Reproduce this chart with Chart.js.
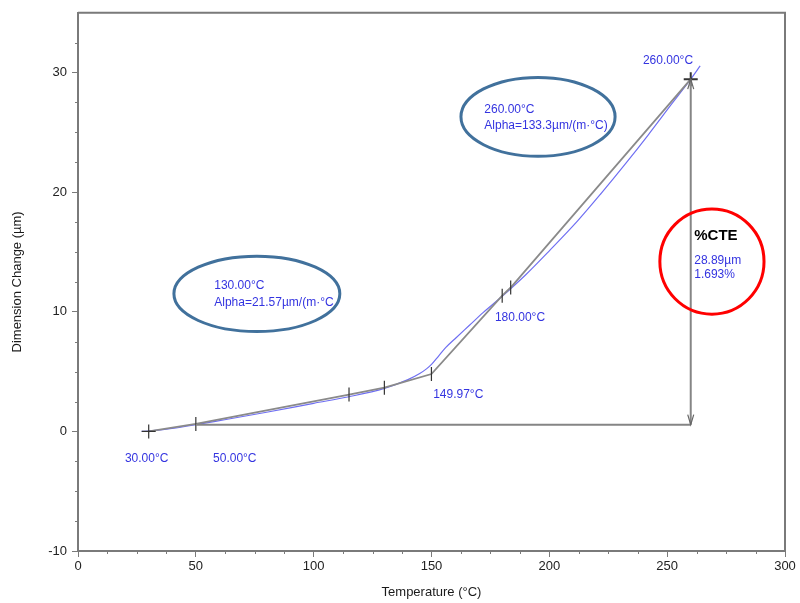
<!DOCTYPE html>
<html lang="en">
<head>
<meta charset="UTF-8">
<title>TMA Dimension Change vs Temperature</title>
<script src="https://cdn.jsdelivr.net/npm/chart.js"></script>
<style>
    html, body { margin: 0; padding: 0; background: #fff; }
    #wrap { width: 800px; height: 603px; position: relative; }
</style>
</head>
<body>
<div id="wrap"><canvas id="cteChart" width="800" height="603"></canvas></div>
<script>
// measured curve (blue)
const measTemp = [27, 30, 40, 50, 60, 80, 100, 115, 130, 140, 145, 148, 150, 153, 156, 160, 166, 172, 180, 190, 200, 212, 222, 232, 242, 252, 260, 264];
const measDim  = [0, 0.02, 0.25, 0.56, 0.9, 1.6, 2.35, 2.9, 3.6, 4.33, 4.84, 5.25, 5.6, 6.3, 7.0, 7.75, 8.85, 9.95, 11.3, 13.1, 15.1, 17.6, 19.9, 22.3, 24.8, 27.4, 29.45, 30.56];

// tangent construction (gray), every vertex carries a marker
const tanTemp = [30, 50, 115, 130, 149.97, 180, 183.6, 260];
const tanDim  = [0, 0.62, 3.08, 3.66, 4.8, 11.35, 12.03, 29.45];

// %CTE baseline and span
const baseTemp = [50, 260];
const baseDim  = [0.56, 0.56];
const spanTemp = [260, 260];
const spanDim  = [0.56, 29.45];

// axes
const xTicks = [0, 50, 100, 150, 200, 250, 300];
const yTicks = [-10, 0, 10, 20, 30];
const xMinor = [12.5, 25, 37.5, 62.5, 75, 87.5, 112.5, 125, 137.5, 162.5, 175, 187.5, 212.5, 225, 237.5, 262.5, 275, 287.5];
const yMinor = [-7.5, -5, -2.5, 2.5, 5, 7.5, 12.5, 15, 17.5, 22.5, 25, 27.5, 32.5];

// annotation texts (data coordinates of their left/middle point)
const noteText = ['30.00°C', '50.00°C', '149.97°C', '180.00°C', '260.00°C',
                  '130.00°C', 'Alpha=21.57µm/(m·°C', '260.00°C', 'Alpha=133.3µm/(m·°C)',
                  '28.89µm', '1.693%'];
const noteT = [19.9, 57.3, 150.7, 176.9, 239.7, 57.8, 57.8, 172.4, 172.4, 261.5, 261.5];
const noteD = [-2.32, -2.32, 3.05, 9.49, 30.98, 12.17, 10.79, 26.89, 25.59, 14.25, 13.14];

const cteLabel = '%CTE';
const cteT = 261.5, cteD = 16.32;

// callout rings
const ringT  = [75.9, 195.2, 269];
const ringD  = [11.5, 26.3, 14.2];
const ringRT = [35.2, 32.7, 22.1];
const ringRD = [3.15, 3.3, 4.4];
const ringColor = ['#41719c', '#41719c', '#ff0000'];

function toPoints(xs, ys) {
    return xs.map((x, i) => ({ x: x, y: ys[i] }));
}

const overlay = {
    id: 'overlay',
    afterDatasetsDraw(chart) {
        const ctx = chart.ctx;
        const xs = chart.scales.x, ys = chart.scales.y;
        const area = chart.chartArea;
        ctx.save();

        // frame top/right
        ctx.strokeStyle = '#7a7a7a';
        ctx.lineWidth = 2;
        ctx.beginPath();
        ctx.moveTo(area.left, area.top);
        ctx.lineTo(area.right, area.top);
        ctx.lineTo(area.right, area.bottom);
        ctx.stroke();

        // minor ticks
        ctx.lineWidth = 1;
        ctx.beginPath();
        xMinor.forEach(v => {
            const px = Math.round(xs.getPixelForValue(v)) + 0.5;
            ctx.moveTo(px, area.bottom);
            ctx.lineTo(px, area.bottom + 3);
        });
        yMinor.forEach(v => {
            const py = Math.round(ys.getPixelForValue(v)) + 0.5;
            ctx.moveTo(area.left - 3, py);
            ctx.lineTo(area.left, py);
        });
        ctx.stroke();

        // arrow heads on the span line
        const ax = xs.getPixelForValue(spanTemp[0]);
        const aTop = ys.getPixelForValue(spanDim[1]);
        const aBot = ys.getPixelForValue(spanDim[0]);
        ctx.strokeStyle = '#666';
        ctx.lineWidth = 1.2;
        ctx.beginPath();
        ctx.moveTo(ax - 3, aTop + 10); ctx.lineTo(ax, aTop); ctx.lineTo(ax + 3, aTop + 10);
        ctx.moveTo(ax - 3, aBot - 10); ctx.lineTo(ax, aBot); ctx.lineTo(ax + 3, aBot - 10);
        ctx.stroke();

        // texts
        ctx.font = '12px "Liberation Sans", Arial, sans-serif';
        ctx.fillStyle = '#3434e0';
        ctx.textAlign = 'left';
        ctx.textBaseline = 'middle';
        noteText.forEach((t, i) => {
            ctx.fillText(t, xs.getPixelForValue(noteT[i]), ys.getPixelForValue(noteD[i]));
        });
        ctx.font = 'bold 15px "Liberation Sans", Arial, sans-serif';
        ctx.fillStyle = '#000';
        ctx.fillText(cteLabel, xs.getPixelForValue(cteT), ys.getPixelForValue(cteD));

        // callout rings
        ctx.lineWidth = 3;
        ringT.forEach((t, i) => {
            const cx = xs.getPixelForValue(t);
            const cy = ys.getPixelForValue(ringD[i]);
            const rx = Math.abs(xs.getPixelForValue(t + ringRT[i]) - cx);
            const ry = Math.abs(ys.getPixelForValue(ringD[i] + ringRD[i]) - cy);
            ctx.strokeStyle = ringColor[i];
            ctx.beginPath();
            ctx.ellipse(cx, cy, rx, ry, 0, 0, Math.PI * 2);
            ctx.stroke();
        });
        ctx.restore();
    }
};

const tickFont = { family: '"Liberation Sans", Arial, sans-serif', size: 13 };

new Chart(document.getElementById('cteChart'), {
    type: 'scatter',
    data: {
        datasets: [
            {
                label: 'Baseline',
                data: toPoints(baseTemp, baseDim),
                showLine: true,
                borderColor: '#858585',
                borderWidth: 2,
                pointRadius: 0
            },
            {
                label: 'Span',
                data: toPoints(spanTemp, spanDim),
                showLine: true,
                borderColor: '#858585',
                borderWidth: 2,
                pointRadius: 0
            },
            {
                label: 'Tangents',
                data: toPoints(tanTemp, tanDim),
                showLine: true,
                borderColor: '#8a8a8a',
                borderWidth: 1.8,
                pointStyle: ctx => (ctx.dataIndex === 0 || ctx.dataIndex === tanTemp.length - 1) ? 'cross' : 'line',
                rotation: 90,
                pointRadius: 7,
                pointBorderColor: '#333',
                pointBorderWidth: ctx => ctx.dataIndex === tanTemp.length - 1 ? 2 : 1.2
            },
            {
                label: 'Measured',
                data: toPoints(measTemp, measDim),
                showLine: true,
                borderColor: '#6f6ff2',
                borderWidth: 1.2,
                pointRadius: 0,
                cubicInterpolationMode: 'monotone'
            }
        ]
    },
    options: {
        responsive: false,
        animation: false,
        layout: { padding: { top: 8, right: 15, left: 0, bottom: 0 } },
        plugins: {
            legend: { display: false },
            tooltip: { enabled: false }
        },
        scales: {
            x: {
                type: 'linear',
                min: 0,
                max: 300,
                afterBuildTicks: s => { s.ticks = xTicks.map(v => ({ value: v })); },
                afterFit: s => { s.height = 52; },
                ticks: { font: tickFont, color: '#222', padding: 2, maxRotation: 0 },
                grid: { drawOnChartArea: false, drawTicks: true, tickLength: 6, color: '#7a7a7a' },
                border: { color: '#7a7a7a', width: 2 },
                title: {
                    display: true,
                    text: 'Temperature (°C)',
                    color: '#1a1a1a',
                    font: { family: '"Liberation Sans", Arial, sans-serif', size: 13 },
                    padding: { top: 0, bottom: 3 }
                }
            },
            y: {
                type: 'linear',
                min: -10,
                max: 35,
                afterBuildTicks: s => { s.ticks = yTicks.map(v => ({ value: v })); },
                afterFit: s => { s.width = 78; },
                ticks: { font: tickFont, color: '#222', padding: 5 },
                grid: { drawOnChartArea: false, drawTicks: true, tickLength: 6, color: '#7a7a7a' },
                border: { color: '#7a7a7a', width: 2 },
                title: {
                    display: true,
                    text: 'Dimension Change (µm)',
                    color: '#1a1a1a',
                    font: { family: '"Liberation Sans", Arial, sans-serif', size: 13 },
                    padding: { top: 10, bottom: 0 }
                }
            }
        }
    },
    plugins: [overlay]
});
</script>
</body>
</html>
